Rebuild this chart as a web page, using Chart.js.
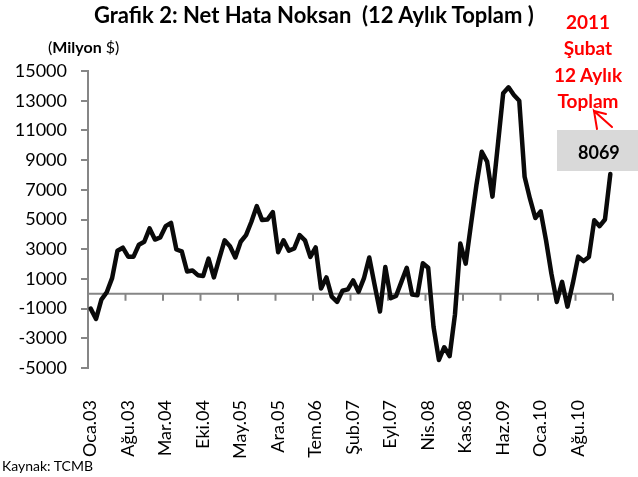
<!DOCTYPE html>
<html>
<head>
<meta charset="utf-8">
<script src="https://cdn.jsdelivr.net/npm/chart.js@4"></script>
<style>
  html, body { margin: 0; padding: 0; background: #fff; }
  #wrap { position: relative; width: 638px; height: 477px; font-family: Lato, "Open Sans", sans-serif; }
  #chart { position: absolute; left: 0; top: 0; }
  .txt { position: absolute; white-space: pre; line-height: 1; }
  #title { left: 94px; top: 4px; font-size: 22px; font-weight: bold; }
  #unit { left: 48px; top: 39px; font-size: 16px; }
  .red { color: #ff0000; font-weight: bold; font-size: 19px; width: 90px; text-align: center; left: 543px; }
  #box { position: absolute; left: 557px; top: 130px; width: 81px; height: 41px; background: #d9d9d9; }
  #last { left: 578px; top: 143px; font-size: 18px; font-weight: bold; }
  #src { left: 2px; top: 459px; font-size: 14px; }
  #arrow { position: absolute; left: 0; top: 0; }
</style>
</head>
<body>
<div id="wrap">
  <canvas id="chart" width="638" height="477"></canvas>
  <div class="txt" id="title">Grafik 2: Net Hata Noksan  (12 Aylık Toplam )</div>
  <div class="txt" id="unit">(<b>Milyon</b> $)</div>
  <div class="txt red" style="top:12px">2011</div>
  <div class="txt red" style="top:38px">Şubat</div>
  <div class="txt red" style="top:65px">12 Aylık</div>
  <div class="txt red" style="top:91px">Toplam</div>
  <div id="box"></div>
  <div class="txt" id="last">8069</div>
  <svg id="arrow" width="638" height="477">
    <g stroke="#ff0000" stroke-width="2" fill="none" stroke-linecap="round">
      <path d="M597 129 L594 111 L612 127"/>
      <path d="M594 111 L606 114"/>
    </g>
  </svg>
  <div class="txt" id="src">Kaynak: TCMB</div>
</div>
<script>
const MONTHS = ["Oca", "Şub", "Mar", "Nis", "May", "Haz", "Tem", "Ağu", "Eyl", "Eki", "Kas", "Ara"];
const YEARS = ["03", "04", "05", "06", "07", "08", "09", "10", "11"];
const N_POINTS = 98; // Oca.03 .. Şub.11
const LABEL_EVERY = 7;

const labels = [];
for (let i = 0; i < N_POINTS; i++) {
  labels.push(`${MONTHS[i % 12]}.${YEARS[Math.floor(i / 12)]}`);
}

// 12-month rolling net errors & omissions, million USD
const netErrors = [
  -1000, -1700, -400, 100, 1050, 2900, 3100, 2500, 2500, 3300, 3500, 4400,
  3650, 3800, 4550, 4770, 2980, 2850, 1500, 1570, 1250, 1200, 2370, 1100,
  2370, 3600, 3200, 2440, 3500, 3950, 4850, 5900, 4960, 5000, 5500, 2800,
  3600, 2900, 3050, 3950, 3600, 2480, 3120, 350, 1100, -200, -550, 200,
  300, 900, 130, 1030, 2440, 600, -1200, 1800, -300, -150, 800, 1750,
  -50, -100, 2050, 1750, -2230, -4460, -3600, -4200, -1400, 3380, 2030, 4700,
  7300, 9560, 8900, 6540, 10000, 13500, 13900, 13380, 13000, 7880, 6400, 5100,
  5550, 3600, 1350, -550, 800, -870, 700, 2500, 2200, 2480, 4950, 4550,
  5000, 8069,
];

const AXIS_GRAY = "#868686";

// x axis crosses at zero, tick marks between categories every 7 months
const zeroAxis = {
  id: "zeroAxis",
  beforeDatasetsDraw(chart) {
    const { ctx, chartArea, scales } = chart;
    const y0 = scales.y.getPixelForValue(0);
    ctx.save();
    ctx.strokeStyle = AXIS_GRAY;
    ctx.lineWidth = 2;
    ctx.beginPath();
    ctx.moveTo(chartArea.left, y0);
    ctx.lineTo(chartArea.right, y0);
    for (let k = 0; k <= N_POINTS; k += LABEL_EVERY) {
      const x = scales.x.getPixelForValue(k - 0.5);
      ctx.moveTo(x, y0);
      ctx.lineTo(x, y0 + 7);
    }
    ctx.stroke();
    ctx.restore();
  },
};

new Chart(document.getElementById("chart"), {
  type: "line",
  data: {
    labels,
    datasets: [{
      data: netErrors,
      borderColor: "#0a0a0a",
      borderWidth: 4.5,
      pointRadius: 0,
      tension: 0,
      borderJoinStyle: "round",
      borderCapStyle: "round",
    }],
  },
  options: {
    responsive: false,
    animation: false,
    devicePixelRatio: 1,
    layout: { padding: { left: 0, top: 71, right: 25, bottom: 0 } },
    plugins: { legend: { display: false }, tooltip: { enabled: false } },
    scales: {
      x: {
        offset: true,
        grid: { display: false },
        border: { display: false },
        ticks: {
          autoSkip: false,
          minRotation: 90,
          maxRotation: 90,
          padding: 24,
          color: "#000",
          font: { family: "Lato", size: 18 },
          callback: (v, i) => (i % LABEL_EVERY === 0 ? labels[i] : null),
        },
        afterFit: (s) => { s.height = 109; },
      },
      y: {
        min: -5000,
        max: 15000,
        grid: { drawOnChartArea: false, drawTicks: true, tickLength: 7, color: AXIS_GRAY, lineWidth: 2 },
        border: { display: true, color: AXIS_GRAY, width: 2 },
        ticks: {
          stepSize: 2000,
          padding: 14,
          color: "#000",
          font: { family: "Lato", size: 18 },
          callback: (v) => String(v),
        },
        afterFit: (s) => { s.width = 88; },
      },
    },
  },
  plugins: [zeroAxis],
});
</script>
</body>
</html>
